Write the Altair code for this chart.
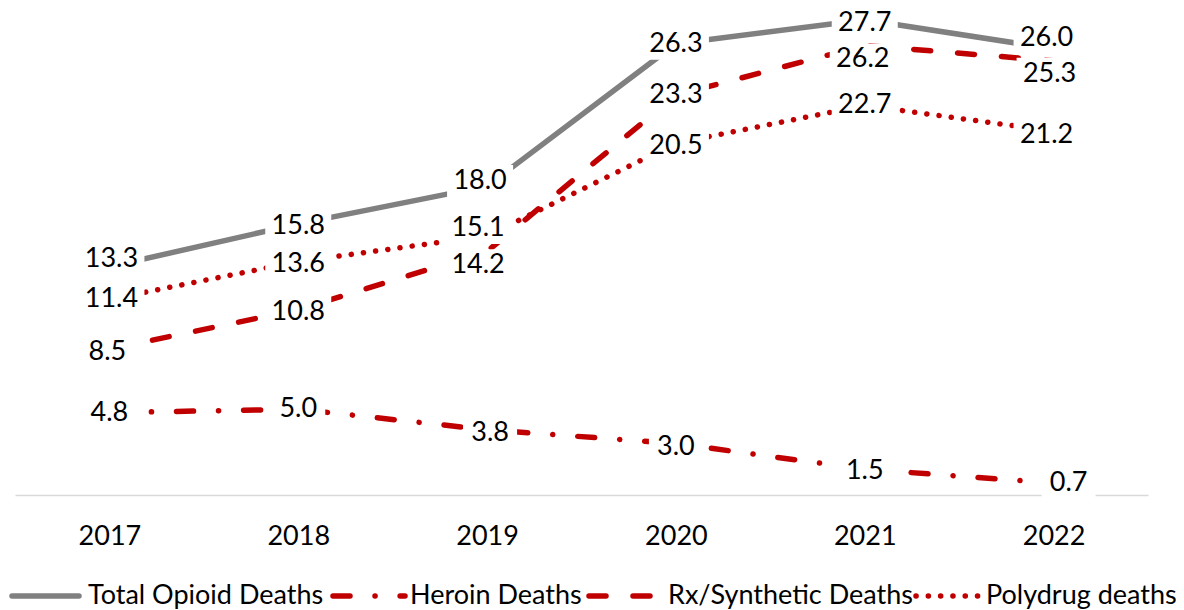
import altair as alt
import pandas as pd

# ---------------- data ----------------
years = [2017, 2018, 2019, 2020, 2021, 2022]
series_names = ["Total Opioid Deaths", "Heroin Deaths", "Rx/Synthetic Deaths", "Polydrug deaths"]
total_deaths = [13.3, 15.8, 18.0, 26.3, 27.7, 26.0]
heroin_deaths = [4.8, 5.0, 3.8, 3.0, 1.5, 0.7]
rx_deaths = [8.5, 10.8, 14.2, 23.3, 26.2, 25.3]
polydrug_deaths = [11.4, 13.6, 15.1, 20.5, 22.7, 21.2]
series_values = [total_deaths, heroin_deaths, rx_deaths, polydrug_deaths]

# ---------------- styles / layout ----------------
FONT = "Lato"
FS = 27
W, H = 1133, 487
X_DOMAIN = [2016.5, 2022.5]
Y_DOMAIN = [0, 28.38]
PX_X = W / (X_DOMAIN[1] - X_DOMAIN[0])
PX_Y = H / (Y_DOMAIN[1] - Y_DOMAIN[0])

STYLES = {
    "Total Opioid Deaths": dict(color="#808080", dash=None, width=5.5),
    "Heroin Deaths": dict(color="#C00000", dash=[17, 25, 0.1, 25], width=5.5),
    "Rx/Synthetic Deaths": dict(color="#C00000", dash=[17, 27], width=5.5),
    "Polydrug deaths": dict(color="#C00000", dash=[0.1, 12.2], width=5.5),
}

# label nudges in pixels (dx, dy) relative to the data point
NUDGE = {
    ("Total Opioid Deaths", 2017): (2, -8),
    ("Total Opioid Deaths", 2018): (0, 2),
    ("Total Opioid Deaths", 2019): (-7, -5),
    ("Total Opioid Deaths", 2021): (0, 3),
    ("Total Opioid Deaths", 2022): (-7, -11),
    ("Heroin Deaths", 2019): (3, 3),
    ("Heroin Deaths", 2020): (0, 3),
    ("Heroin Deaths", 2021): (0, 2),
    ("Heroin Deaths", 2022): (15, 0),
    ("Rx/Synthetic Deaths", 2017): (-2, 3),
    ("Rx/Synthetic Deaths", 2018): (0, 2),
    ("Rx/Synthetic Deaths", 2019): (-9, 14),
    ("Rx/Synthetic Deaths", 2021): (-2, 14),
    ("Rx/Synthetic Deaths", 2022): (-4, 13),
    ("Polydrug deaths", 2017): (2, 0),
    ("Polydrug deaths", 2018): (0, 2),
    ("Polydrug deaths", 2019): (-9, -8),
    ("Polydrug deaths", 2020): (0, 3),
    ("Polydrug deaths", 2022): (-7, 4),
}

# legend layout (pixels relative to plot origin)
LEGEND_Y = 588
LEGEND_LAYOUT = {
    "Total Opioid Deaths": (-3, 64, 73),
    "Heroin Deaths": (318, 390, 395),
    "Rx/Synthetic Deaths": (574, 645, 653),
    "Polydrug deaths": (901, 966, 971),
}

rows = []
for name, vals in zip(series_names, series_values):
    for yr, v in zip(years, vals):
        dx, dy = NUDGE.get((name, yr), (0, 0))
        lab = f"{v:.1f}"
        half = 33 if len(lab) >= 4 else 27
        rows.append(dict(
            series=name, year=yr, value=v, label=lab,
            lx=yr + dx / PX_X, ly=v - dy / PX_Y,
            box=f"M{-half},-16H{half}V16H{-half}Z",
        ))
df = pd.DataFrame(rows)

x_axis = alt.Axis(
    values=years, format="d", title=None, ticks=False, grid=False,
    domainColor="#d9d9d9", domainWidth=1.5, labelFont=FONT, labelFontSize=FS,
    labelColor="#000000", labelPadding=28,
)
x_scale = alt.Scale(domain=X_DOMAIN, nice=False, zero=False)
y_scale = alt.Scale(domain=Y_DOMAIN, nice=False, zero=True)

layers = []
for name in series_names:
    st = STYLES[name]
    kw = dict(color=st["color"], strokeWidth=st["width"], strokeCap="round", strokeJoin="round")
    if st["dash"] is not None:
        kw["strokeDash"] = st["dash"]
    layers.append(
        alt.Chart(df).transform_filter(alt.datum.series == name).mark_line(**kw).encode(
            x=alt.X("year:Q", scale=x_scale, axis=x_axis),
            y=alt.Y("value:Q", scale=y_scale, axis=None),
        )
    )

boxes = alt.Chart(df).mark_point(filled=True, fill="white", opacity=1, strokeWidth=0, size=4).encode(
    x=alt.X("lx:Q", scale=x_scale, axis=x_axis),
    y=alt.Y("ly:Q", scale=y_scale, axis=None),
    shape=alt.Shape("box:N", scale=None, legend=None),
)
labels = alt.Chart(df).mark_text(font=FONT, fontSize=FS, color="#000000", baseline="middle", align="center").encode(
    x=alt.X("lx:Q", scale=x_scale, axis=x_axis),
    y=alt.Y("ly:Q", scale=y_scale, axis=None),
    text="label:N",
)
layers += [boxes, labels]

# manual legend
for name in series_names:
    st = STYLES[name]
    x0, x1, xt = LEGEND_LAYOUT[name]
    kw = dict(color=st["color"], strokeWidth=st["width"], strokeCap="round")
    if st["dash"] is not None:
        kw["strokeDash"] = st["dash"]
    layers.append(alt.Chart(df).transform_filter(
        (alt.datum.series == name) & (alt.datum.year == 2017)
    ).mark_rule(**kw).encode(
        x=alt.value(x0), x2=alt.value(x1), y=alt.value(LEGEND_Y)))
    layers.append(alt.Chart(df).transform_filter(
        (alt.datum.series == name) & (alt.datum.year == 2017)
    ).mark_text(font=FONT, fontSize=FS, color="#000000", align="left", baseline="middle").encode(
        x=alt.value(xt), y=alt.value(LEGEND_Y), text=alt.value(name)))

chart = alt.layer(*layers).properties(
    width=W, height=H, autosize="none",
    padding={"left": 7, "top": 0, "right": 28, "bottom": 115},
    background="white",
).configure_view(stroke=None)

chart.save("out.html", embed_options={"renderer": "svg", "actions": False})
